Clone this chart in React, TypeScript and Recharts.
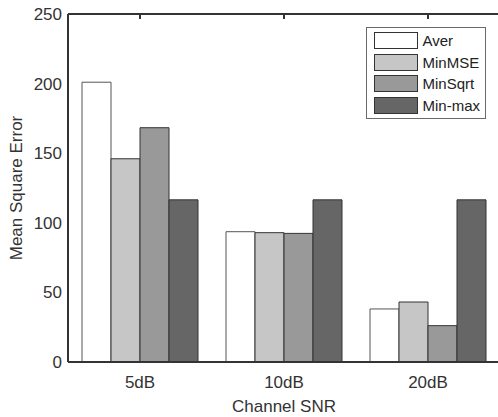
import React from 'react';
import { BarChart, Bar, XAxis, YAxis, Legend } from 'recharts';

const categories = ['5dB', '10dB', '20dB'];
const aver = [201, 93.6, 38.1];
const minMSE = [146, 92.9, 43.1];
const minSqrt = [168.3, 92.4, 26.1];
const minMax = [116.5, 116.5, 116.5];
const yTicks = [0, 50, 100, 150, 200, 250];

const seriesNames = ['Aver', 'MinMSE', 'MinSqrt', 'Min-max'];
const seriesColors = ['#ffffff', '#c5c6c5', '#999999', '#666666'];

const data = categories.map((c, i) => ({
  snr: c,
  Aver: aver[i],
  MinMSE: minMSE[i],
  MinSqrt: minSqrt[i],
  'Min-max': minMax[i],
}));

const FONT = '"Liberation Sans", Arial, Helvetica, sans-serif';
const AXIS = '#333333';

const Empty = () => <g />;

const renderLegend = (props: any) => {
  const payload = [...(props.payload || [])].sort(
    (a: any, b: any) => seriesNames.indexOf(a.value) - seriesNames.indexOf(b.value)
  );
  return (
    <div
      style={{
        boxSizing: 'border-box',
        width: 120,
        height: 92,
        border: '1px solid #6a6a6a',
        background: '#fff',
        paddingTop: 2,
        paddingLeft: 7,
        fontFamily: FONT,
        fontSize: 15,
        color: '#222',
      }}
    >
      {payload.map((p: any) => (
        <div key={p.value} style={{ height: 21.6, display: 'flex', alignItems: 'center' }}>
          <div
            style={{
              boxSizing: 'border-box',
              width: 44,
              height: 17,
              background: p.color,
              border: '1px solid #333',
            }}
          />
          <span style={{ marginLeft: 4.5, lineHeight: '17px' }}>{p.value}</span>
        </div>
      ))}
    </div>
  );
};

export default function App() {
  return (
    <div style={{ position: 'absolute', left: 0, top: 0, width: 498, height: 417, overflow: 'hidden', background: '#fff' }}>
      <BarChart
        width={506}
        height={417}
        data={data}
        margin={{ top: 14, right: 6, left: 0, bottom: 0 }}
        barCategoryGap={14}
        barGap={0}
      >
        <XAxis
          dataKey="snr"
          height={55}
          tickSize={0}
          tickMargin={14}
          axisLine={{ stroke: AXIS, strokeWidth: 2 }}
          tickLine={false}
          tick={{ fill: '#333', fontSize: 17, fontFamily: FONT }}
          label={{ value: 'Channel SNR', position: 'insideBottom', offset: 5, fill: '#333', fontSize: 17, fontFamily: FONT }}
        />
        <XAxis
          xAxisId="top"
          dataKey="snr"
          orientation="top"
          mirror
          height={1}
          tickSize={5}
          tick={<Empty />}
          tickLine={{ stroke: AXIS, strokeWidth: 2 }}
          axisLine={{ stroke: AXIS, strokeWidth: 2 }}
        />
        <YAxis
          width={68}
          domain={[0, 250]}
          ticks={yTicks}
          tickSize={0}
          tickMargin={6}
          axisLine={{ stroke: AXIS, strokeWidth: 2 }}
          tickLine={false}
          tick={{ fill: '#333', fontSize: 17, fontFamily: FONT }}
          label={{ value: 'Mean Square Error', angle: -90, position: 'insideLeft', offset: 16, style: { textAnchor: 'middle' }, fill: '#333', fontSize: 17, fontFamily: FONT }}
        />
        <YAxis
          yAxisId="lt"
          orientation="left"
          mirror
          width={1}
          type="number"
          domain={[0, 250]}
          ticks={yTicks}
          tickSize={5}
          tick={<Empty />}
          tickLine={{ stroke: AXIS, strokeWidth: 2 }}
          axisLine={false}
        />
        <YAxis
          yAxisId="rt"
          orientation="right"
          mirror
          width={1}
          type="number"
          domain={[0, 250]}
          ticks={yTicks}
          tickSize={5}
          tick={<Empty />}
          tickLine={{ stroke: AXIS, strokeWidth: 2 }}
          axisLine={{ stroke: AXIS, strokeWidth: 2 }}
        />
        <Legend
          layout="horizontal"
          verticalAlign="middle"
          align="center"
          content={renderLegend}
          wrapperStyle={{ left: 366, top: 27, width: 120, height: 92 }}
        />
        {seriesNames.map((name, i) => (
          <Bar
            key={name}
            dataKey={name}
            name={name}
            fill={seriesColors[i]}
            stroke={i === 0 ? '#555' : '#333'}
            strokeWidth={1}
            isAnimationActive={false}
          />
        ))}
      </BarChart>
    </div>
  );
}
